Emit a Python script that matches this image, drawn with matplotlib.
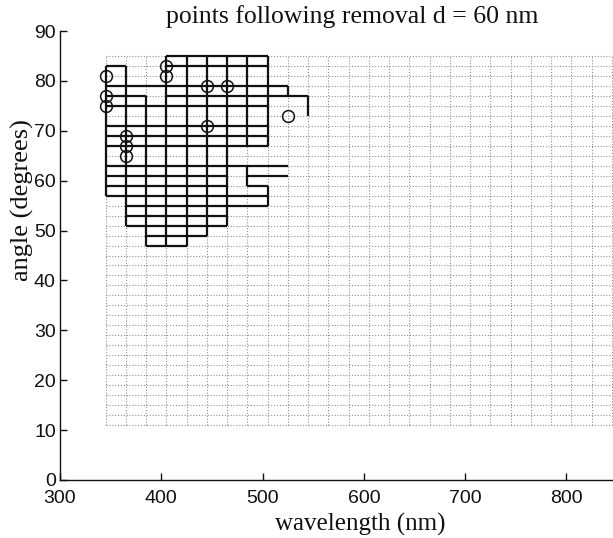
import matplotlib
matplotlib.use("Agg")
import matplotlib.pyplot as plt

# ---- data -------------------------------------------------------------
# full (dotted) mesh of wavelengths (nm) and angles (degrees)
mesh_wavelengths = [345, 365, 385, 405, 425, 445, 465, 485, 505, 525, 545, 565, 585,
                    605, 625, 645, 665, 685, 705, 725, 745, 765, 785, 805, 825, 845]
mesh_angles = [85, 83, 81, 79, 77, 75, 73, 71, 69, 67, 65, 63, 61, 59, 57, 55, 53, 51,
               49, 47, 45, 43, 41, 39, 37, 35, 33, 31, 29, 27, 25, 23, 21, 19, 17, 15,
               13, 11]

# solid mesh of points kept after removal: horizontal segments
keep_h_angle = [85, 83, 83, 79, 77, 77, 75, 71, 69, 67, 63, 61, 61, 59, 59, 57, 55, 53, 51, 49, 47]
keep_h_start = [405, 345, 405, 345, 345, 405, 345, 345, 345, 345, 345, 345, 485, 345, 485, 345, 365, 365, 365, 385, 385]
keep_h_end   = [505, 365, 505, 525, 385, 545, 505, 505, 505, 505, 525, 465, 525, 465, 505, 505, 505, 465, 465, 445, 425]

# vertical segments
keep_v_wavelength = [345, 365, 385, 405, 425, 445, 465, 485, 485, 505, 505, 525, 545]
keep_v_top        = [83, 83, 77, 85, 85, 85, 85, 85, 63, 85, 59, 79, 77]
keep_v_bottom     = [57, 51, 47, 47, 47, 49, 51, 67, 59, 67, 55, 77, 73]

# circled points
circle_wavelength = [345, 345, 345, 405, 405, 445, 465, 445, 525, 365, 365, 365]
circle_angle      = [81, 77, 75, 83, 81, 79, 79, 71, 73, 69, 67, 65]

title = "points following removal d = 60 nm"
x_label = "wavelength (nm)"
y_label = "angle (degrees)"
x_ticks = [300, 400, 500, 600, 700, 800]
y_ticks = [0, 10, 20, 30, 40, 50, 60, 70, 80, 90]

# ---- figure -----------------------------------------------------------
W, H = 613, 538
fig = plt.figure(figsize=(W / 100, H / 100), dpi=100)
ax_left, ax_right = 60, 613
ax_top, ax_bottom = 31, 480
ax = fig.add_axes([ax_left / W, 1 - ax_bottom / H, (ax_right - ax_left) / W,
                   (ax_bottom - ax_top) / H])
ax.set_xlim(300, 846)
ax.set_ylim(0, 90)

dot = (0, (1, 1.6))
gcol = "#909090"
wmin, wmax = min(mesh_wavelengths), max(mesh_wavelengths)
amin, amax = min(mesh_angles), max(mesh_angles)
for a in mesh_angles:
    ax.plot([wmin, wmax], [a, a], linestyle=dot, color=gcol, lw=0.8, zorder=1)
for w in mesh_wavelengths:
    ax.plot([w, w], [amin, amax], linestyle=dot, color=gcol, lw=0.8, zorder=1)

ax.hlines(keep_h_angle, keep_h_start, keep_h_end, colors="#111111", lw=1.6, zorder=2)
ax.vlines(keep_v_wavelength, keep_v_bottom, keep_v_top, colors="#111111", lw=1.6, zorder=2)

ax.plot(circle_wavelength, circle_angle, linestyle="none", marker="o", markersize=8.5,
        markerfacecolor="none", markeredgecolor="#111111", markeredgewidth=1.1, zorder=3)

for s in ("top", "right"):
    ax.spines[s].set_visible(False)
for s in ("left", "bottom"):
    ax.spines[s].set_linewidth(1.0)
    ax.spines[s].set_color("#111111")

tick_font = ["Liberation Sans", "DejaVu Sans"]
ax.set_xticks(x_ticks)
ax.set_yticks(y_ticks)
ax.set_xticklabels([str(v) for v in x_ticks], family=tick_font, fontsize=14)
ax.set_yticklabels([str(v) for v in y_ticks], family=tick_font, fontsize=14)
ax.tick_params(direction="in", length=5, width=1, colors="#111111")
ax.tick_params(axis="x", pad=7)
ax.tick_params(axis="y", pad=3)

serif = ["Liberation Serif", "DejaVu Serif"]
fig.text(352 / W, 1 - 23 / H, title, family=serif, fontsize=18.5, ha="center",
         va="baseline", color="#111111")
fig.text(360 / W, 1 - 531 / H, x_label, family=serif, fontsize=18, ha="center",
         va="baseline", color="#111111")
fig.text(22 / W, 1 - 200 / H, y_label, family=serif, fontsize=19, ha="center",
         va="center", rotation=90, color="#111111")

fig.savefig("out.png", dpi=100, facecolor="white")
